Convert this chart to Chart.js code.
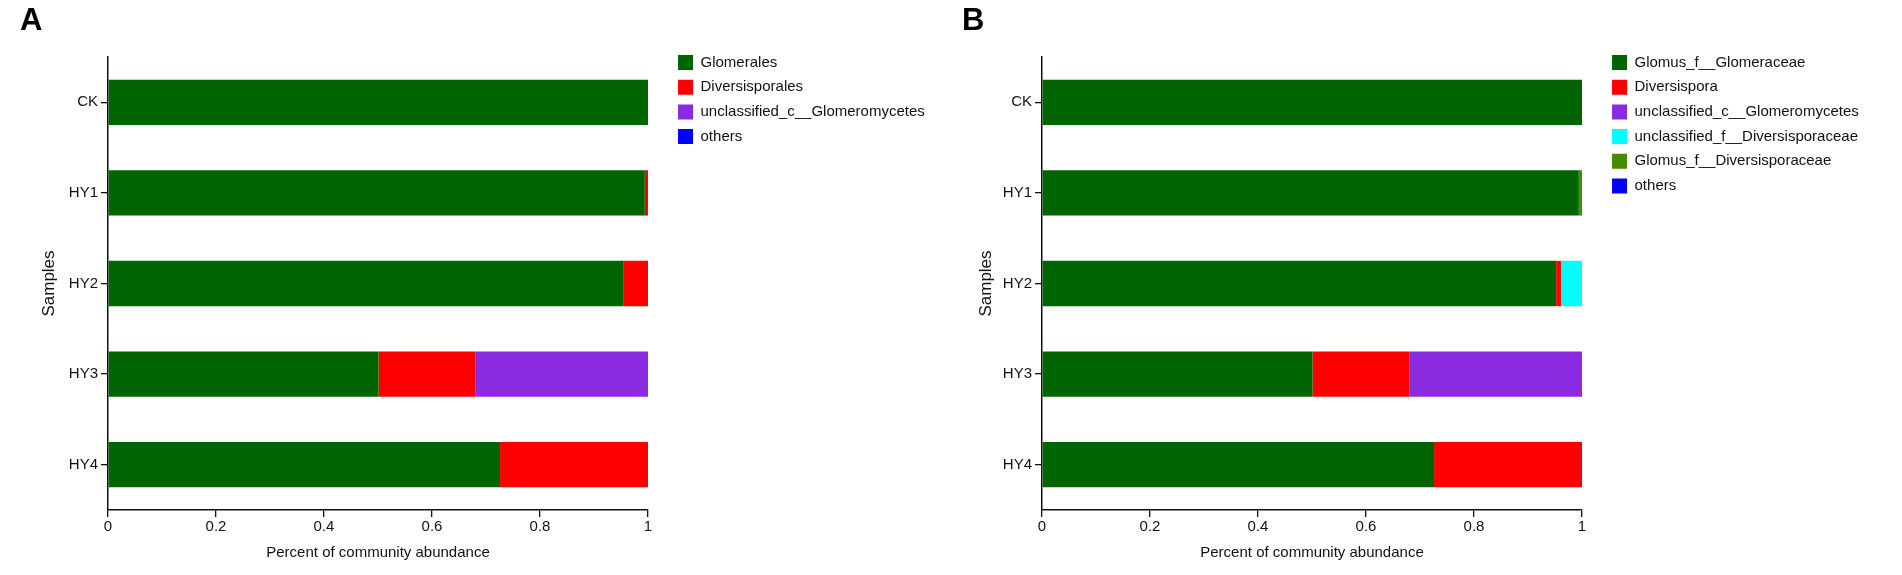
<!DOCTYPE html>
<html>
<head>
<meta charset="utf-8">
<script src="https://cdn.jsdelivr.net/npm/chart.js@4"></script>
<style>
  html, body { margin: 0; padding: 0; background: #fff; }
  body { width: 1902px; height: 575px; position: relative; overflow: hidden; }
  canvas { position: absolute; top: 0; }
</style>
</head>
<body>
<canvas id="chartA" width="936" height="575" style="left:0"></canvas>
<canvas id="chartB" width="968" height="575" style="left:934px"></canvas>
<script>
const samples = ['CK', 'HY1', 'HY2', 'HY3', 'HY4'];
const xTicks = [0, 0.2, 0.4, 0.6, 0.8, 1];
const xTickLabels = ['0', '0.2', '0.4', '0.6', '0.8', '1'];

// A: order level
const glomerales = [1.0, 0.994, 0.954, 0.501, 0.726];
const diversisporales = [0, 0.006, 0.046, 0.179, 0.274];
const unclassifiedGlomeromycetesA = [0, 0, 0, 0.320, 0];
const othersA = [0, 0, 0, 0, 0];

// B: genus level
const glomusGlomeraceae = [1.0, 0.994, 0.952, 0.501, 0.726];
const diversispora = [0, 0, 0.009, 0.179, 0.274];
const unclassifiedGlomeromycetesB = [0, 0, 0, 0.320, 0];
const unclassifiedDiversisporaceae = [0, 0, 0.039, 0, 0];
const glomusDiversisporaceae = [0, 0.006, 0, 0, 0];
const othersB = [0, 0, 0, 0, 0];

const FONT = 'Arial, "Liberation Sans", sans-serif';
const INK = '#111';

function set(label, data, color) {
  return { label: label, data: data, backgroundColor: color, borderWidth: 0 };
}

function makeChart(id, letter, datasets, pad) {
  return new Chart(document.getElementById(id), {
    type: 'bar',
    data: { labels: samples, datasets: datasets },
    options: {
      indexAxis: 'y',
      responsive: false,
      animation: false,
      layout: { padding: { left: pad.left, top: 0, right: pad.right, bottom: 9 } },
      datasets: { bar: { barPercentage: 0.5, categoryPercentage: 1.0 } },
      scales: {
        x: {
          stacked: true,
          min: 0,
          max: 1,
          afterBuildTicks: (s) => { s.ticks = xTicks.map(v => ({ value: v })); },
          grid: { display: true, drawOnChartArea: false, drawTicks: true, tickLength: 7, color: INK, lineWidth: 1.3 },
          border: { display: true, color: INK, width: 1.5 },
          ticks: { color: INK, padding: 1, font: { family: FONT, size: 15 }, callback: (v, i) => xTickLabels[i] },
          title: {
            display: true, text: 'Percent of community abundance', color: INK,
            font: { family: FONT, size: 15 }, padding: { top: 7, bottom: 4 }
          }
        },
        y: {
          stacked: true,
          grid: { display: true, offset: false, drawOnChartArea: false, drawTicks: true, tickLength: 7, color: INK, lineWidth: 1.3 },
          border: { display: true, color: INK, width: 1.5 },
          ticks: { color: INK, padding: 3, font: { family: FONT, size: 15 } },
          title: {
            display: true, text: 'Samples', color: INK,
            font: { family: FONT, size: 17 }, padding: { top: pad.titleTop, bottom: pad.titleBottom }
          }
        },
        // empty strip between the plot and the legend
        gap: {
          axis: 'y',
          position: 'right',
          grid: { display: false },
          border: { display: false },
          ticks: { display: false },
          afterFit: (s) => { s.width = 20.3; }
        }
      },
      plugins: {
        title: {
          display: true, text: letter, align: 'start', color: '#000',
          font: { family: FONT, size: 31, weight: 'bold' }, padding: { top: 3, bottom: 16.8 }
        },
        legend: {
          position: 'right',
          align: 'start',
          maxWidth: 300,
          title: { display: true, text: '', font: { size: 10 }, padding: { top: 33.3, bottom: 0 } },
          labels: { boxWidth: 15, boxHeight: 15, padding: 9.7, color: INK, font: { family: FONT, size: 15 } }
        },
        tooltip: { enabled: false }
      }
    }
  });
}

makeChart('chartA', 'A', [
  set('Glomerales', glomerales, '#006400'),
  set('Diversisporales', diversisporales, '#FF0000'),
  set('unclassified_c__Glomeromycetes', unclassifiedGlomeromycetesA, '#8A2BE2'),
  set('others', othersA, '#0000FF')
], { left: 20, right: 1.2, titleTop: 19.3, titleBottom: 6.1 });

makeChart('chartB', 'B', [
  set('Glomus_f__Glomeraceae', glomusGlomeraceae, '#006400'),
  set('Diversispora', diversispora, '#FF0000'),
  set('unclassified_c__Glomeromycetes', unclassifiedGlomeromycetesB, '#8A2BE2'),
  set('unclassified_f__Diversisporaceae', unclassifiedDiversisporaceae, '#00FFFF'),
  set('Glomus_f__Diversisporaceae', glomusDiversisporaceae, '#458B00'),
  set('others', othersB, '#0000FF')
], { left: 28, right: 33.2, titleTop: 14, titleBottom: 3.4 });
</script>
</body>
</html>
